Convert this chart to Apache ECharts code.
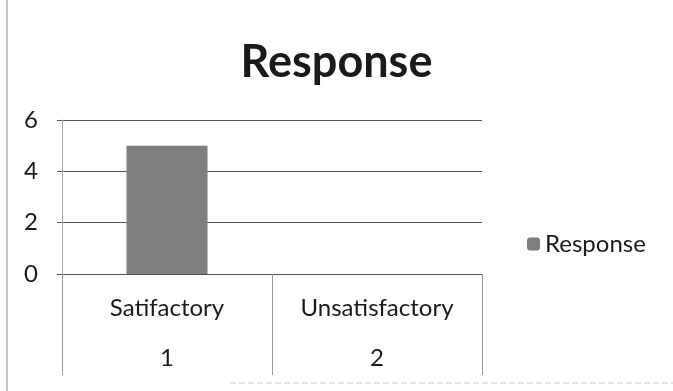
<!DOCTYPE html>
<html>
<head>
<meta charset="utf-8">
<script src="https://cdn.jsdelivr.net/npm/echarts@6/dist/echarts.min.js"></script>
<style>
  html, body { margin: 0; padding: 0; background: #fff; }
  #chart { width: 673px; height: 391px; }
</style>
</head>
<body>
<div id="chart"></div>
<script>
// --- datos ---
const categorias = ["Satifactory", "Unsatisfactory"];
const numeros = ["1", "2"];
const respuestas = [5, 0];
const nombreSerie = "Response";

const fuente = "Lato";

var myChart = echarts.init(document.getElementById("chart"));

myChart.setOption({
    animation: false,
    backgroundColor: "#fff",
    title: {
        text: "Response",
        left: "center",
        top: 35,
        textStyle: {
            fontFamily: fuente,
            fontSize: 45,
            fontWeight: "bold",
            color: "#1a1a1a"
        }
    },
    legend: {
        data: [nombreSerie],
        left: 522,
        top: 227,
        itemWidth: 13,
        itemHeight: 13,
        itemGap: 7,
        textStyle: {
            fontFamily: fuente,
            fontSize: 24,
            color: "#1a1a1a"
        }
    },
    grid: {
        left: 62,
        right: 191,
        top: 120,
        bottom: 117
    },
    xAxis: {
        type: "category",
        data: categorias,
        axisLine: { lineStyle: { color: "#555", width: 1 } },
        axisTick: {
            show: true,
            length: 101,
            interval: 0,
            lineStyle: { color: "#999", width: 1 }
        },
        axisLabel: {
            interval: 0,
            margin: 9,
            formatter: (valor, i) => `{a|${valor}}\n{b|${numeros[i]}}`,
            rich: {
                a: { fontFamily: fuente, fontSize: 24, color: "#1a1a1a", lineHeight: 50 },
                b: { fontFamily: fuente, fontSize: 24, color: "#1a1a1a", lineHeight: 50 }
            }
        }
    },
    yAxis: {
        type: "value",
        min: 0,
        max: 6,
        interval: 2,
        axisLine: { show: true, lineStyle: { color: "#aaa", width: 1 } },
        axisTick: { show: true, length: 5, lineStyle: { color: "#555" } },
        axisLabel: {
            margin: 24,
            fontFamily: fuente,
            fontSize: 24,
            color: "#1a1a1a"
        },
        splitLine: { lineStyle: { color: "#555", width: 1 } }
    },
    series: [
        {
            name: nombreSerie,
            type: "bar",
            data: respuestas,
            barWidth: 81,
            itemStyle: { color: "#7f7f7f" }
        }
    ],
    graphic: [
        {
            type: "line",
            shape: { x1: 7, y1: 0, x2: 7, y2: 391 },
            style: { stroke: "#888", lineWidth: 1 }
        },
        {
            type: "line",
            shape: { x1: 230, y1: 383, x2: 673, y2: 383 },
            style: { stroke: "#ccc", lineWidth: 1, lineDash: [6, 3] }
        }
    ]
});
</script>
</body>
</html>
